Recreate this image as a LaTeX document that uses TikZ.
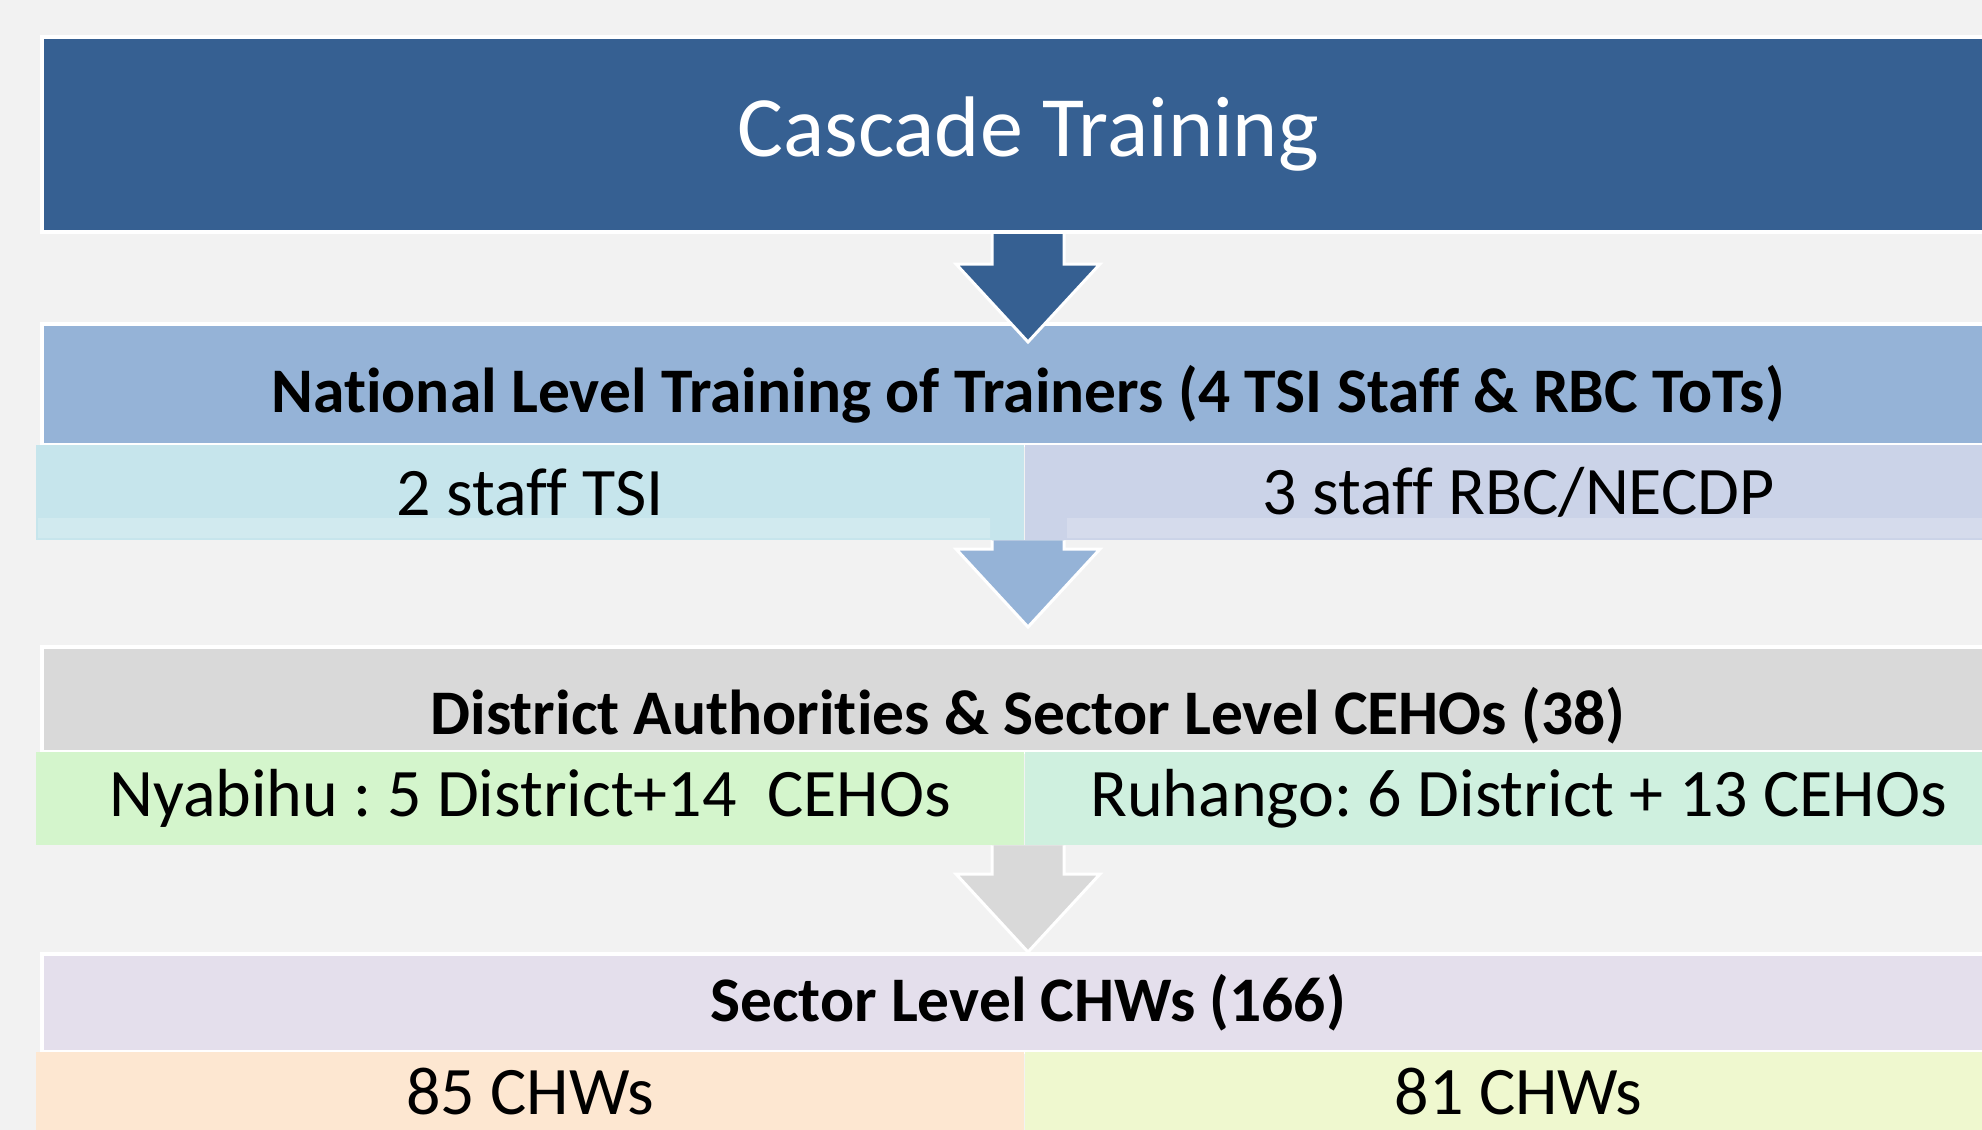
\documentclass[tikz,border=0pt]{standalone}
\usepackage{fontspec}
\setmainfont{Carlito}[Ligatures=NoCommon]
\usetikzlibrary{calc}
\frenchspacing
\definecolor{pagebg}{HTML}{F2F2F2}
\definecolor{titleblue}{HTML}{366092}
\definecolor{natblue}{HTML}{95B3D7}
\definecolor{tsicyan}{HTML}{C6E5EC}
\definecolor{rbclilac}{HTML}{CBD3E8}
\definecolor{distgray}{HTML}{D9D9D9}
\definecolor{nyabgreen}{HTML}{D4F5CC}
\definecolor{ruhmint}{HTML}{CFF0DF}
\definecolor{chwlilac}{HTML}{E4DFEC}
\definecolor{chwpeach}{HTML}{FDE7D1}
\definecolor{chwlime}{HTML}{EFF8CF}
\newcommand{\flowarrow}[3]{%
    \fill[#3] let \p1=(#1), \p2=(#2) in
        (\x2-36pt,\y1) -- (\x2-36pt,\y2+78pt) -- (\x2-72pt,\y2+78pt) -- (\x2,\y2)
        -- (\x2+72pt,\y2+78pt) -- (\x2+36pt,\y2+78pt) -- (\x2+36pt,\y1) -- cycle;
    \draw[white, line width=3pt, line join=miter] let \p1=(#1), \p2=(#2) in
        (\x2-36pt,\y1) -- (\x2-36pt,\y2+78pt) -- (\x2-72pt,\y2+78pt) -- (\x2,\y2)
        -- (\x2+72pt,\y2+78pt) -- (\x2+36pt,\y2+78pt) -- (\x2+36pt,\y1);
}
\begin{document}
\begin{tikzpicture}[x=1pt, y=-1pt,
        band/.style={rectangle, draw=white, line width=4pt, inner sep=0pt,
            minimum width=1972pt, anchor=north},
        hdrtext/.style={font=\bfseries\fontsize{63.5}{76}\selectfont, inner sep=0pt},
        cell/.style={rectangle, inner sep=0pt, minimum width=988pt, minimum height=95pt,
            anchor=north west, font=\fontsize{68}{81}\selectfont}]
    \useasboundingbox (0,0) rectangle (1982,1130);
    \clip (0,0) rectangle (1982,1130);
    \fill[pagebg] (0,0) rectangle (1982,1130);

    \node[band, fill=titleblue, minimum height=195pt, text=white,
        font=\fontsize{86}{100}\selectfont] (title) at (1028,35) {Cascade Training};

    \node[band, fill=natblue, minimum height=121pt] (nat) at (1028,322) {};
    \node[hdrtext, yshift=-10pt] (nattext) at (nat.center)
        {National Level Training of Trainers (4 TSI Staff \& RBC ToTs)};
    \node[cell, fill=tsicyan] (tsi) at ($(nat.south west)+(-4,-2)$) {2 staff TSI};
    \node[cell, fill=rbclilac] (rbc) at (tsi.north east) {3 staff RBC/NECDP};
    \fill[white, opacity=.2] (38,518) rectangle (990,538) (1067,518) rectangle (2014,538);
    \flowarrow{title.south}{$(nat.north)+(0,20)$}{titleblue}

    \node[band, fill=distgray, minimum height=105pt] (dist) at (1028,645) {};
    \node[hdrtext, yshift=-16pt] (disttext) at (dist.center)
        {District Authorities \& Sector Level CEHOs (38)};
    \node[cell, fill=nyabgreen, minimum height=93pt] (nyab) at ($(dist.south west)+(-4,-2)$)
        {Nyabihu : 5 District+14~ CEHOs};
    \node[cell, fill=ruhmint, minimum height=93pt] (ruh) at (nyab.north east)
        {Ruhango: 6 District + 13 CEHOs};
    \flowarrow{nat.center |- tsi.south}{$(dist.north)+(0,-18)$}{natblue}

    \node[band, fill=chwlilac, minimum height=98pt] (sector) at (1028,952) {};
    \node[hdrtext] (sectortext) at (sector.center) {Sector Level CHWs (166)};
    \node[cell, fill=chwpeach, minimum height=78pt] (chwa) at ($(sector.south west)+(-4,-2)$) {85 CHWs};
    \node[cell, fill=chwlime, minimum height=78pt] (chwb) at (chwa.north east) {81 CHWs};
    \fill[chwpeach] (chwa.south west) rectangle (chwa.south east |- 0,1130);
    \fill[chwlime] (chwb.south west) rectangle (chwb.south east |- 0,1130);
    \flowarrow{dist.center |- nyab.south}{sector.north}{distgray}
\end{tikzpicture}
\end{document}
